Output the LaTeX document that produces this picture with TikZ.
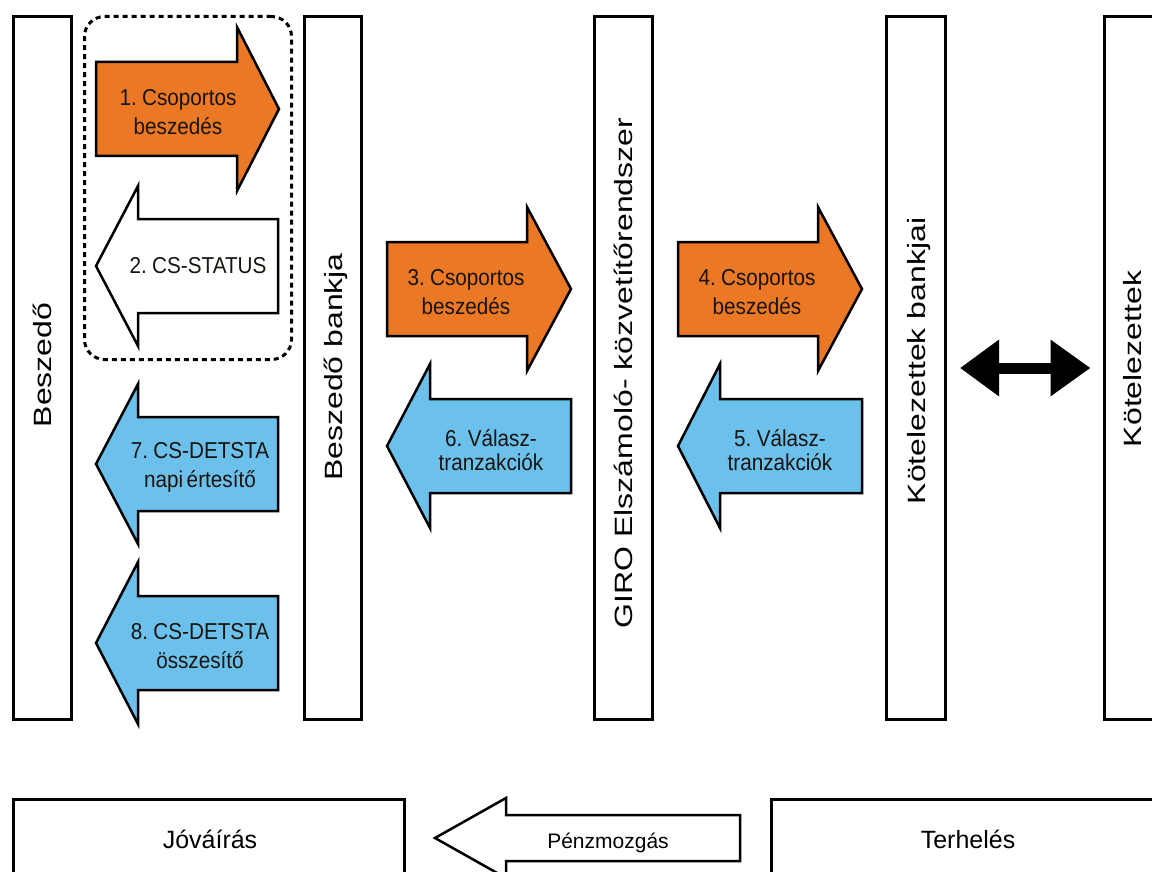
\documentclass[tikz,border=0pt]{standalone}
\usepackage{fontspec}
\setmainfont{Liberation Sans}
\newfontfamily\arrowfont[FakeStretch=0.9, WordSpace=0.6]{Liberation Sans}
\newfontfamily\colfont[FakeStretch=1.28]{Liberation Sans}
\usetikzlibrary{arrows.meta,calc}
\definecolor{arrorange}{RGB}{234,120,36}
\definecolor{arrblue}{RGB}{108,193,236}
\definecolor{arrink}{RGB}{25,20,15}
\tikzset{
  colbox/.style={draw=black, line width=3pt, fill=white, inner sep=0pt},
  collabel/.style={rotate=90, anchor=base, inner sep=0pt, font=\colfont\fontsize{25}{30}\selectfont},
  fatarrow/.style={draw=black, line width=2.5pt, line join=miter},
  arrtext/.style={align=center, inner sep=0pt, text=arrink, font=\arrowfont\fontsize{23}{29}\selectfont},
  arrtextb/.style={align=center, inner sep=0pt, text=arrink, font=\arrowfont\fontsize{23}{24}\selectfont},
  boxtext/.style={anchor=base, inner sep=0pt, font=\fontsize{25}{30}\selectfont},
  groupbox/.style={draw=black, line width=3pt, dash pattern=on 5pt off 4pt, rounded corners=20pt, inner sep=0pt},
}
\newcommand\fatright[7]{%
  \filldraw[fatarrow,fill=#1] (#2,#5-#6) -- (#3,#5-#6) -- (#3,#5-#7) -- (#4,#5) -- (#3,#5+#7) -- (#3,#5+#6) -- (#2,#5+#6) -- cycle;}
\newcommand\fatleft[7]{%
  \filldraw[fatarrow,fill=#1] (#4,#5-#6) -- (#3,#5-#6) -- (#3,#5-#7) -- (#2,#5) -- (#3,#5+#7) -- (#3,#5+#6) -- (#4,#5+#6) -- cycle;}
\begin{document}
\begin{tikzpicture}[x=1pt,y=-1pt]
\useasboundingbox (0,0) rectangle (1152,872);
\clip (0,0) rectangle (1152,872);
\fill[white] (0,0) rectangle (1152,872);

% columns
\node[colbox, minimum width=58pt, minimum height=703pt] (besz) at (42.5,368) {};
\node[colbox, minimum width=57pt, minimum height=703pt] (bank) at (333,368) {};
\node[colbox, minimum width=58pt, minimum height=703pt] (giro) at (623.5,368) {};
\node[colbox, minimum width=59pt, minimum height=703pt] (kbank) at (916,368) {};
\node[colbox, minimum width=58pt, minimum height=703pt] (kot) at (1133,368) {};

\node[collabel] (lbesz) at (51.5,365) {Beszedő};
\node[collabel] (lbank) at (342,367) {Beszedő bankja};
\node[collabel] (lgiro) at (632.5,373) {GIRO Elszámoló- közvetítőrendszer};
\node[collabel] (lkbank) at (925,361) {Kötelezettek bankjai};
\node[collabel] (lkot) at (1141,359) {Kötelezettek};

% dashed group
\node[groupbox, minimum width=207pt, minimum height=343pt] (grp) at (188,188) {};

% arrows
\fatright{arrorange}{96}{237}{279}{109}{47}{82}
\node[arrtext] (t1) at (178,112) {1. Csoportos\\beszedés};
\fatleft{white}{96}{138}{278}{266}{47}{80}
\node[arrtext] (t2) at (198,266) {2. CS-STATUS};
\fatleft{arrblue}{96}{138}{278}{464}{47}{80}
\node[arrtext] (t7) at (200,467) {7. CS-DETSTA\\napi értesítő};
\fatleft{arrblue}{96}{138}{278}{643}{47}{81}
\node[arrtext] (t8) at (200,646) {8. CS-DETSTA\\összesítő};
\fatright{arrorange}{387}{527}{571}{289}{47}{82}
\node[arrtext] (t3) at (466,292) {3. Csoportos\\beszedés};
\fatright{arrorange}{678}{818}{862}{289}{47}{82}
\node[arrtext] (t4) at (757,292) {4. Csoportos\\beszedés};
\fatleft{arrblue}{387}{430}{571}{446}{47}{82}
\node[arrtextb] (t6) at (491,450) {6. Válasz-\\tranzakciók};
\fatleft{arrblue}{678}{720}{862}{446}{47}{82}
\node[arrtextb] (t5) at (780,450) {5. Válasz-\\tranzakciók};

% double arrow
\draw[line width=11pt, {Triangle[length=39pt,width=54pt]}-{Triangle[length=40pt,width=54pt]}]
  ($(kbank.east)+(13,0)$) -- ($(kot.west)+(-12,0)$);

% bottom row
\node[colbox, minimum width=391pt, minimum height=101pt] (jov) at (209,850) {};
\node[colbox, minimum width=400pt, minimum height=101pt] (ter) at (971.5,850) {};
\node[boxtext] (ljov) at (210,848) {Jóváírás};
\node[boxtext] (lter) at (968,848) {Terhelés};
\fatleft{white}{435}{506}{740}{838}{23}{40}
\node[boxtext, font=\fontsize{21}{25}\selectfont] (lpenz) at (608,848) {Pénzmozgás};
\end{tikzpicture}
\end{document}
